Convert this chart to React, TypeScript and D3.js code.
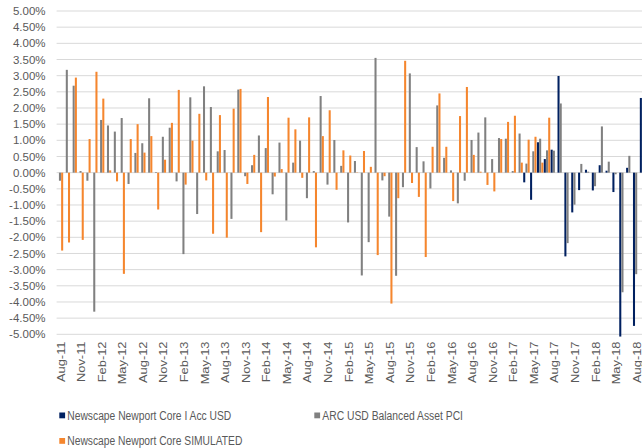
import * as d3 from 'd3';

// monthly returns, % (Aug-11 .. Sep-18)
const startMonth = new Date(2011, 7, 1);
const endMonth = new Date(2018, 9, 1);
const months = d3.timeMonth.range(startMonth, endMonth).map(d => d3.timeFormat('%b-%y')(d));

const arcValues: (number | null)[] = [
    -0.25, 3.18, 2.69, 0.05, -0.25, -4.30, 1.63, 1.46, 1.27, 1.69, -0.35, 0.61,
    0.91, 2.30, 0.02, 1.11, 1.39, -0.27, -2.52, 2.33, -1.28, 2.67, 2.03, 0.66,
    0.70, -1.43, 2.57, -0.11, 0.23, 1.15, 0.76, -0.67, 0.93, -1.48, 0.31, 0.99,
    -0.79, 0.05, 2.37, -0.37, 1.01, 0.21, -1.54, 0.36, -3.18, -2.15, 3.55, -0.24,
    -1.36, -3.19, -0.45, 3.07, 0.79, 0.35, -0.49, 2.08, 0.46, 0.07, -0.95, -0.25,
    1.01, 1.24, 1.71, 0.42, 1.07, 1.05, 0.05, 1.21, 0.28, 0.66, 1.05, 0.69,
    0.68, 2.14, -2.18, -0.99, 0.27, 0.03, -0.42, 1.43, 0.34, -0.05, -3.70, 0.52,
    -3.14, null,
];

const simulatedValues: (number | null)[] = [
    -2.41, -2.16, 2.94, -2.08, 1.04, 3.12, 2.29, 0.07, -0.27, -3.13, 1.04, 1.50,
    0.62, 1.13, -1.14, 0.40, 1.54, 2.56, -0.37, 0.99, 1.82, -0.24, -1.89, 1.78,
    -2.01, 1.98, 2.59, -0.35, 0.55, -1.84, 2.34, -0.12, 0.11, 1.70, 1.34, -0.16,
    1.71, -2.31, 1.13, 1.93, -0.53, 0.69, 0.53, 0.01, 0.67, 0.18, -2.55, -0.11,
    -4.05, -0.79, 3.46, -0.32, -0.75, -2.61, 0.80, 2.45, 0.80, -0.88, 1.75, 2.65,
    0.55, 0.03, -0.38, -0.58, 1.04, 1.57, 1.76, 0.31, 1.02, 1.11, 0.31, 1.70,
];

// fund launched Apr-17
const fundStart = 68;
const fundValues: number[] = [
    -0.30, -0.84, 0.94, 0.42, 0.71, 2.99, -2.59, -1.23, -0.54, 0.09, -0.55, 0.23,
    0.06, -0.60, -5.07, 0.15, -4.74, 2.31,
];

const seriesNames = [
    'Newscape Newport Core I Acc USD',
    'ARC USD Balanced Asset PCI',
    'Newscape Newport Core SIMULATED',
];
const seriesColors = ['#002060', '#808080', '#F5862E'];

const yTicks = d3.range(-5, 5.001, 0.5);
const xTickLabels = months.filter((_, i) => i % 3 === 0);

const width = 642;
const height = 448;
const plotLeft = 56.6;
const step = 6.86;
const plotTop = 11;
const plotBottom = 334.3;

function valueAt(series: number, i: number): number | null {
    if (series === 0) {
        const j = i - fundStart;
        return j >= 0 && j < fundValues.length ? fundValues[j] : null;
    }
    if (series === 1) return arcValues[i] ?? null;
    return simulatedValues[i] ?? null;
}

export default function App() {
    const x = d3.scaleBand<string>()
        .domain(months)
        .range([plotLeft, plotLeft + months.length * step])
        .padding(0);

    const groupWidth = 6.6;
    const x1 = d3.scaleBand<number>()
        .domain([0, 1, 2])
        .range([(step - groupWidth) / 2, (step + groupWidth) / 2])
        .padding(0);

    const y = d3.scaleLinear().domain([-5, 5]).range([plotBottom, plotTop]);

    const bars: JSX.Element[] = [];
    months.forEach((m, i) => {
        [0, 1, 2].forEach(s => {
            const v = valueAt(s, i);
            if (v === null) return;
            const bx = (x(m) ?? 0) + (x1(s) ?? 0);
            bars.push(
                <rect
                    key={`${s}-${i}`}
                    x={bx}
                    y={y(Math.max(0, v))}
                    width={x1.bandwidth() - 0.15}
                    height={Math.abs(y(v) - y(0))}
                    fill={seriesColors[s]}
                />
            );
        });
    });

    const legend = [
        { name: seriesNames[0], color: seriesColors[0], x: 59.3, y: 415.5, len: 164 },
        { name: seriesNames[1], color: seriesColors[1], x: 314.3, y: 415.5, len: 140.7 },
        { name: seriesNames[2], color: seriesColors[2], x: 59.3, y: 441, len: 175 },
    ];

    return (
        <div style={{ position: 'fixed', left: 0, top: 0 }}>
            <svg width={width} height={height} style={{ display: 'block', background: '#fff' }}
                fontFamily="'Liberation Sans', Arial, sans-serif">
                {/* gridlines */}
                <g>
                    {yTicks.map(t => (
                        <line key={t} x1={plotLeft} x2={width} y1={y(t)} y2={y(t)}
                            stroke="#d9d9d9" strokeWidth={1} />
                    ))}
                </g>
                <g>{bars}</g>
                {/* y axis labels */}
                <g fill="#595959" fontSize={11.5} textAnchor="end">
                    {yTicks.map(t => (
                        <text key={t} x={45.5} y={y(t)} dy="0.35em">{`${t.toFixed(2)}%`}</text>
                    ))}
                </g>
                {/* x axis labels */}
                <g fill="#595959" fontSize={11.5} textAnchor="end">
                    {xTickLabels.map(lbl => {
                        const cx = (x(lbl) ?? 0) + step / 2 + 4.5;
                        return (
                            <text key={lbl} transform={`translate(${cx},341.5) rotate(-90) scale(1.12,1)`}>{lbl}</text>
                        );
                    })}
                </g>
                {/* legend */}
                <g fill="#595959" fontSize={12.5}>
                    {legend.map(l => (
                        <g key={l.name}>
                            <rect x={l.x} y={l.y - 3} width={5.8} height={5.8} fill={l.color} />
                            <text x={l.x + 8} y={l.y} dy="0.35em" textLength={l.len}
                                lengthAdjust="spacingAndGlyphs">{l.name}</text>
                        </g>
                    ))}
                </g>
            </svg>
        </div>
    );
}
